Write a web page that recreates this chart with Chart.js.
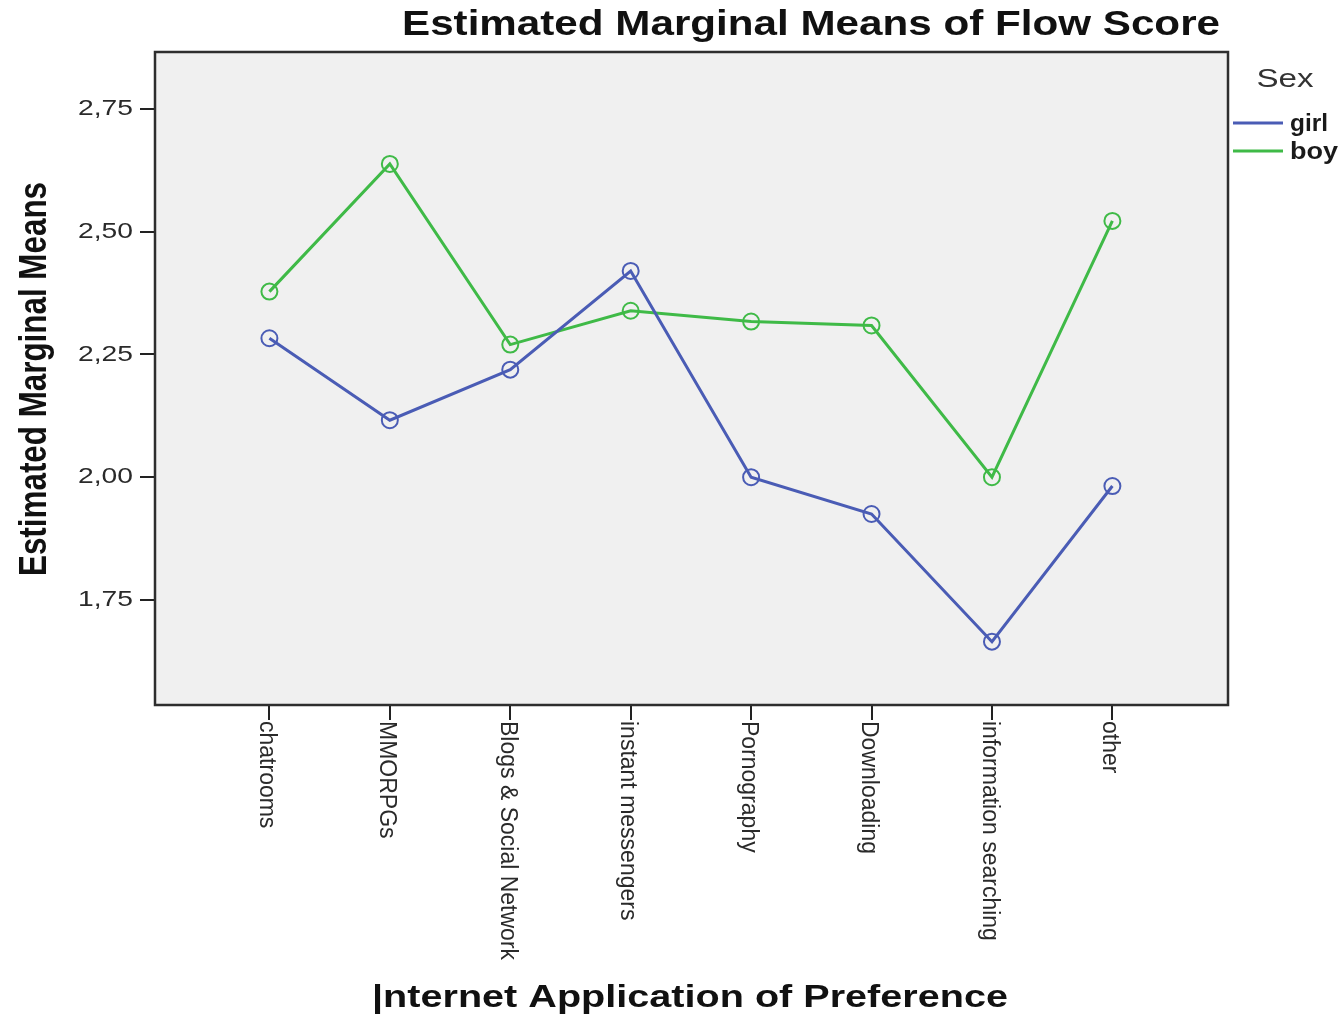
<!DOCTYPE html>
<html>
<head>
<meta charset="utf-8">
<script src="https://cdn.jsdelivr.net/npm/chart.js@4"></script>
<style>html,body{margin:0;padding:0;background:#fff}</style>
</head>
<body>
<canvas id="myChart" width="1342" height="1018"></canvas>
<script>
const categories = ['chatrooms', 'MMORPGs', 'Blogs & Social Network', 'instant messengers',
    'Pornography', 'Downloading', 'information searching', 'other'];
const girl = [2.283, 2.116, 2.219, 2.420, 2.000, 1.925, 1.665, 1.982];
const boy = [2.378, 2.638, 2.270, 2.339, 2.317, 2.309, 2.000, 2.522];
const yTicks = [1.75, 2.00, 2.25, 2.50, 2.75];
const yTickLabels = ['1,75', '2,00', '2,25', '2,50', '2,75'];
const seriesNames = ['girl', 'boy'];

const BLUE = '#4a5cb5';
const GREEN = '#3fba47';
const FONT = '"Liberation Sans", Arial, sans-serif';

// draws text, squeezed/stretched along its own direction to a given length
function fitText(ctx, text, x, y, font, len, angle, sx) {
    ctx.save();
    ctx.font = font;
    const w = ctx.measureText(text).width;
    ctx.translate(x, y);
    ctx.scale(sx || 1, 1);
    if (angle) ctx.rotate(angle);
    if (len) ctx.scale(len / w, 1);
    ctx.fillText(text, 0, 0);
    ctx.restore();
}

const decor = {
    id: 'decor',
    beforeDatasetsDraw(chart) {
        const ctx = chart.ctx;
        const a = chart.chartArea;
        ctx.save();
        ctx.fillStyle = '#f0f0f0';
        ctx.fillRect(a.left, a.top, a.right - a.left, a.bottom - a.top);
        ctx.strokeStyle = '#2e2e2e';
        ctx.lineWidth = 2.5;
        ctx.strokeRect(a.left, a.top, a.right - a.left, a.bottom - a.top);
        ctx.restore();
    },
    afterDraw(chart) {
        const ctx = chart.ctx;
        const xs = chart.scales.x;
        const ys = chart.scales.y;
        ctx.save();
        ctx.fillStyle = '#111';
        ctx.textBaseline = 'middle';

        // title
        ctx.textAlign = 'center';
        fitText(ctx, 'Estimated Marginal Means of Flow Score', 811, 25, 'bold 35px ' + FONT, 818);
        // axis titles
        fitText(ctx, '|nternet Application of Preference', 690, 998, 'bold 32px ' + FONT, 636);
        fitText(ctx, 'Estimated Marginal Means', 35, 379, 'bold 31px ' + FONT, 394, -Math.PI / 2, 1.25);

        // y tick labels
        ctx.textAlign = 'right';
        ctx.fillStyle = '#2a2a2a';
        ctx.font = '22px ' + FONT;
        const sx = 55 / ctx.measureText('2,75').width;
        yTicks.forEach((v, i) => {
            ctx.save();
            ctx.translate(133, ys.getPixelForValue(v));
            ctx.scale(sx, 1);
            ctx.fillText(yTickLabels[i], 0, 0);
            ctx.restore();
        });

        // x tick labels, rotated clockwise
        ctx.textAlign = 'left';
        ctx.font = '23px ' + FONT;
        categories.forEach((c, i) => {
            ctx.save();
            ctx.translate(xs.getPixelForValue(i) - 3, 721);
            ctx.rotate(Math.PI / 2);
            ctx.fillText(c, 0, 0);
            ctx.restore();
        });

        // legend
        ctx.textAlign = 'center';
        ctx.fillStyle = '#333';
        fitText(ctx, 'Sex', 1285, 80, '26px ' + FONT, 57);
        ctx.textAlign = 'left';
        ctx.fillStyle = '#1a1a1a';
        const ly = [123, 151];
        const lw = [38, 48];
        chart.data.datasets.forEach((d, i) => {
            ctx.strokeStyle = d.borderColor;
            ctx.lineWidth = 3;
            ctx.beginPath();
            ctx.moveTo(1233, ly[i]);
            ctx.lineTo(1283, ly[i]);
            ctx.stroke();
            fitText(ctx, seriesNames[i], 1290, ly[i] + 2, 'bold 23px ' + FONT, lw[i]);
        });
        ctx.restore();
    }
};

function series(vals) {
    return vals.map((v, i) => ({x: i, y: v}));
}

const ctx = document.getElementById('myChart').getContext('2d');
const myChart = new Chart(ctx, {
    type: 'line',
    data: {
        datasets: [{
            label: seriesNames[0],
            data: series(girl),
            borderColor: BLUE,
            pointBorderColor: BLUE,
            backgroundColor: 'rgba(0,0,0,0)',
            pointBackgroundColor: 'rgba(0,0,0,0)',
            borderWidth: 3,
            pointRadius: 8,
            pointBorderWidth: 2,
            tension: 0
        }, {
            label: seriesNames[1],
            data: series(boy),
            borderColor: GREEN,
            pointBorderColor: GREEN,
            backgroundColor: 'rgba(0,0,0,0)',
            pointBackgroundColor: 'rgba(0,0,0,0)',
            borderWidth: 3,
            pointRadius: 8,
            pointBorderWidth: 2,
            tension: 0
        }]
    },
    options: {
        responsive: false,
        animation: false,
        devicePixelRatio: 1,
        layout: {padding: {top: 52, right: 114, left: 0, bottom: 0}},
        plugins: {legend: {display: false}, tooltip: {enabled: false}},
        scales: {
            x: {
                type: 'linear',
                min: -0.95,
                max: 7.96,
                afterBuildTicks: s => { s.ticks = categories.map((c, i) => ({value: i})); },
                afterFit: s => { s.height = 313; },
                ticks: {display: false},
                border: {display: false},
                grid: {drawOnChartArea: false, drawTicks: true, tickLength: 15, color: '#222', lineWidth: 2}
            },
            y: {
                min: 1.536,
                max: 2.866,
                afterBuildTicks: s => { s.ticks = yTicks.map(v => ({value: v})); },
                afterFit: s => { s.width = 155; },
                ticks: {display: false},
                border: {display: false},
                grid: {drawOnChartArea: false, drawTicks: true, tickLength: 15, color: '#222', lineWidth: 2}
            }
        }
    },
    plugins: [decor]
});
</script>
</body>
</html>
